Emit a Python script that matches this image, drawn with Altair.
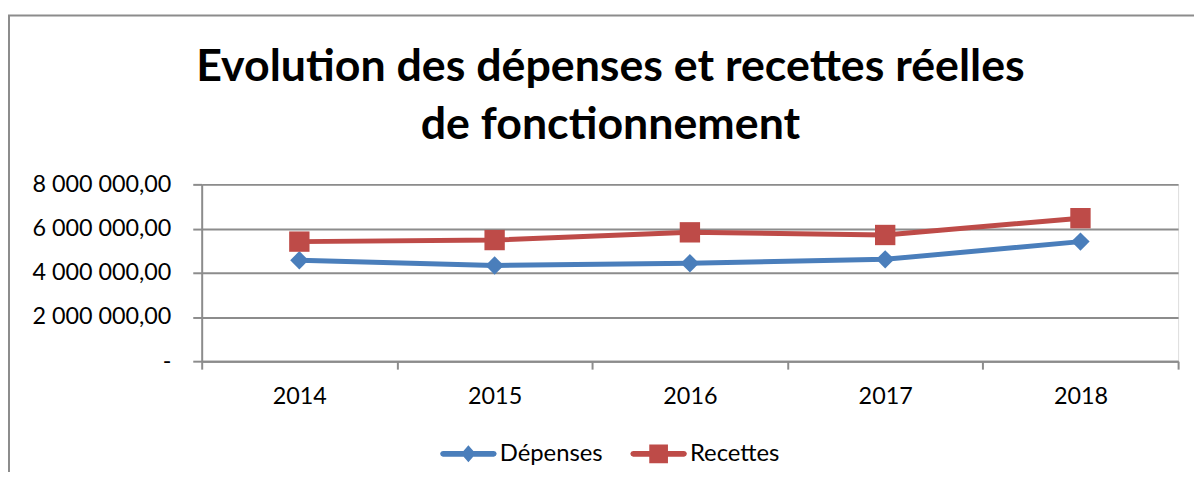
import altair as alt
import pandas as pd

years = ["2014", "2015", "2016", "2017", "2018"]
depenses = [4566000, 4330000, 4430000, 4610000, 5410000]
recettes = [5410000, 5480000, 5830000, 5710000, 6470000]
series = ["Dépenses", "Recettes"]
colors = ["#4a7ebb", "#be4b48"]
y_ticks = [0, 2000000, 4000000, 6000000, 8000000]
title_lines = ["Evolution des dépenses et recettes réelles", "de fonctionnement"]

rows = []
for i, yr in enumerate(years):
    rows.append({"annee": yr, "serie": series[0], "valeur": depenses[i]})
    rows.append({"annee": yr, "serie": series[1], "valeur": recettes[i]})
df = pd.DataFrame(rows)

FONT = "Lato"
GRID = "#8c8c8c"
LBL = 23.5
LEG = 24

x_enc = alt.X("annee:N", sort=years,
              scale=alt.Scale(type="band", paddingInner=0, paddingOuter=0),
              axis=alt.Axis(title=None, tickBand="extent", tickSize=8, tickWidth=2,
                            tickColor=GRID, domainColor=GRID, domainWidth=2,
                            labelAngle=0, labelFont=FONT, labelFontSize=LBL,
                            labelColor="#000000", labelPadding=16, grid=False))
y_enc = alt.Y("valeur:Q",
              scale=alt.Scale(domain=[0, 8000000], nice=False),
              axis=alt.Axis(title=None, values=y_ticks, tickSize=9, tickWidth=2,
                            tickColor=GRID, domainColor=GRID, domainWidth=2,
                            gridColor=GRID, gridWidth=2, gridOpacity=1,
                            labelFont=FONT, labelFontSize=LBL, labelColor="#000000",
                            labelPadding=22,
                            labelExpr="datum.value == 0 ? '-\u00a0\u00a0\u00a0' : replace(replace(format(datum.value, ',.2f'), regexp(',', 'g'), ' '), '.', ',')"))

bar = ("M-0.9,-0.1L0.9,-0.1L0.97,-0.07L1,0L0.97,0.07L0.9,0.1"
       "L-0.9,0.1L-0.97,0.07L-1,0L-0.97,-0.07Z")
path_dep = bar + " M0,-0.3L0.26,0L0,0.3L-0.26,0Z"
path_rec = bar + " M-0.33,-0.33L0.33,-0.33L0.33,0.33L-0.33,0.33Z"

legend = alt.Legend(
    title=None, orient="none", direction="horizontal",
    legendX=240, legendY=242.5,
    labelFont=FONT, labelFontSize=LEG, labelColor="#000000",
    labelOffset=3, columnPadding=27.5, symbolSize=3249, symbolStrokeWidth=0,
    symbolOpacity=1,
    symbolType=alt.ExprRef(expr=f"datum.value === '{series[0]}' ? '{path_dep}' : '{path_rec}'"),
    symbolFillColor=alt.ExprRef(expr=f"datum.value === '{series[0]}' ? '{colors[0]}' : '{colors[1]}'"),
    symbolStrokeColor="transparent",
)

color_scale = alt.Scale(domain=series, range=colors)

base = alt.Chart(df)
lines = base.mark_line(strokeWidth=5).encode(
    x=x_enc, y=y_enc,
    color=alt.Color("serie:N", scale=color_scale, legend=legend),
)
pts_dep = base.transform_filter(alt.datum.serie == series[0]).mark_point(
    filled=True, opacity=1, shape="diamond", size=340, color=colors[0]).encode(x=x_enc, y=y_enc)
pts_rec = base.transform_filter(alt.datum.serie == series[1]).mark_point(
    filled=True, opacity=1, shape="square", size=420, color=colors[1]).encode(x=x_enc, y=y_enc)

frame_left = alt.Chart(pd.DataFrame({"k": [0]})).mark_rule(color=GRID, strokeWidth=2).encode(
    x=alt.value(-194), y=alt.value(-170), y2=alt.value(300))
frame_top = alt.Chart(pd.DataFrame({"k": [0]})).mark_rule(color=GRID, strokeWidth=2).encode(
    x=alt.value(-195), x2=alt.value(1010), y=alt.value(-170))

chart = alt.layer(frame_left, frame_top, lines, pts_dep, pts_rec).properties(
    width=983, height=178,
    autosize=alt.AutoSizeParams(type="none"),
    padding={"left": 195, "top": 176, "right": 16, "bottom": 110},
    title=alt.TitleParams(text=title_lines, font=FONT, fontSize=45, fontWeight="bold",
                          lineHeight=58, anchor="middle", frame="group", dx=-80,
                          color="#000000", offset=-134),
).configure_view(stroke=None).configure(background="white")

chart.save("out.html", embed_options={"renderer": "svg", "actions": False})
